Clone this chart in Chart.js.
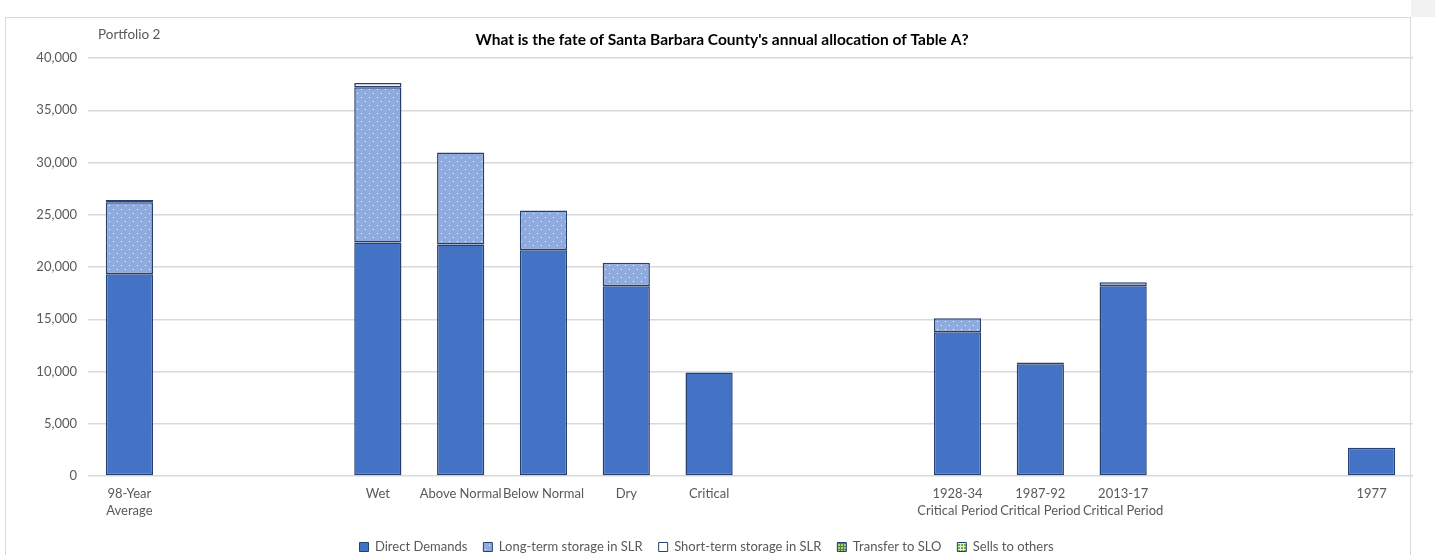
<!DOCTYPE html>
<html>
<head>
<meta charset="utf-8">
<script src="https://cdn.jsdelivr.net/npm/chart.js@4.4.1/dist/chart.umd.min.js"></script>
<style>
  html, body { margin: 0; padding: 0; background: #ffffff; }
  #wrap { position: relative; width: 1435px; height: 555px; overflow: hidden; }
  #frame { position: absolute; left: 5px; top: 17px; width: 1406px; height: 560px; border: 1px solid #d9d9d9; box-sizing: border-box; }
  #corner { position: absolute; left: 1411px; top: 0; width: 24px; height: 17px; background: #f2f2f2; }
  canvas { position: absolute; left: 0; top: 0; }
</style>
</head>
<body>
<div id="wrap">
  <div id="corner"></div>
  <div id="frame"></div>
  <canvas id="c" width="1435" height="555"></canvas>
</div>
<script>
// ---- data ----
const categories = [
  ['98-Year', 'Average'], '', '', 'Wet', 'Above Normal', 'Below Normal', 'Dry', 'Critical', '', '',
  ['1928-34', 'Critical Period'], ['1987-92', 'Critical Period'], ['2013-17', 'Critical Period'], '', '', '1977'
];
const directDemands = [19300, null, null, 22350, 22150, 21600, 18150, 9900, null, null, 13750, 10700, 18150, null, null, 2700];
const longTermSLR   = [6900, null, null, 14850, 8800, 3800, 2250, 0, null, null, 1350, 0, 400, null, null, 0];
const shortTermSLR  = [200, null, null, 400, 0, 0, 0, 0, null, null, 0, 150, 0, null, null, 0];
const transferSLO   = [0, null, null, 0, 0, 0, 0, 0, null, null, 0, 0, 0, null, null, 0];
const sellsOthers   = [0, null, null, 0, 0, 0, 0, 0, null, null, 0, 0, 0, null, null, 0];
const yTicks = [0, 5000, 10000, 15000, 20000, 25000, 30000, 35000, 40000];
const titleText = "What is the fate of Santa Barbara County's annual allocation of Table A?";
const subtitleText = 'Portfolio 2';

// ---- patterns ----
function makeDots(bg, dot) {
  const c = document.createElement('canvas');
  c.width = 8; c.height = 8;
  const g = c.getContext('2d');
  g.fillStyle = bg; g.fillRect(0, 0, 8, 8);
  g.fillStyle = dot;
  g.fillRect(1, 1, 1, 1);
  g.fillRect(5, 5, 1, 1);
  return g.createPattern(c, 'repeat');
}
function makeGrid(bg, line) {
  const c = document.createElement('canvas');
  c.width = 3; c.height = 3;
  const g = c.getContext('2d');
  g.fillStyle = bg; g.fillRect(0, 0, 3, 3);
  g.fillStyle = line; g.fillRect(0, 0, 3, 1); g.fillRect(0, 0, 1, 3);
  return g.createPattern(c, 'repeat');
}
const longPattern = makeDots('#8faadc', 'rgba(255,255,255,0.9)');
const transferPattern = makeGrid('#a9d18e', '#548235');
const sellsPattern = makeGrid('#70ad47', '#e2f0d9');

const FONT = "Lato, 'Liberation Sans', sans-serif";
const border = '#26416f';

const textPlugin = {
  id: 'texts',
  afterDraw(chart) {
    const ctx = chart.ctx;
    ctx.save();
    ctx.fillStyle = '#000000';
    ctx.font = "bold 15.5px " + FONT;
    ctx.textAlign = 'center';
    ctx.textBaseline = 'middle';
    ctx.fillText(titleText, 722, 40);
    ctx.fillStyle = '#595959';
    ctx.font = "13.5px " + FONT;
    ctx.textAlign = 'left';
    ctx.fillText(subtitleText, 98, 35);
    ctx.restore();
  }
};

const ds = (label, data, bg) => ({
  label, data, backgroundColor: bg, borderColor: border,
  borderWidth: c => (c.raw ? 1.5 : 0),
  borderSkipped: false, barPercentage: 1, categoryPercentage: 0.57
});

new Chart(document.getElementById('c'), {
  type: 'bar',
  data: {
    labels: categories,
    datasets: [
      ds('Direct Demands', directDemands, '#4472c4'),
      ds('Long-term storage in SLR', longTermSLR, longPattern),
      ds('Short-term storage in SLR', shortTermSLR, '#ffffff'),
      ds('Transfer to SLO', transferSLO, transferPattern),
      ds('Sells to others', sellsOthers, sellsPattern)
    ]
  },
  plugins: [textPlugin],
  options: {
    responsive: false,
    animation: false,
    layout: { padding: { top: 58, left: 0, right: 22, bottom: -8.5 } },
    plugins: {
      title: { display: false },
      tooltip: { enabled: false },
      legend: {
        position: 'bottom',
        labels: {
          boxWidth: 9, boxHeight: 9, padding: 16,
          color: '#595959', font: { family: FONT, size: 13 },
          generateLabels(chart) {
            const items = Chart.defaults.plugins.legend.labels.generateLabels(chart);
            items.forEach(it => { it.lineWidth = 1; it.strokeStyle = border; });
            return items;
          }
        }
      }
    },
    scales: {
      x: {
        stacked: true,
        grid: { display: false, drawTicks: false },
        border: { display: false },
        ticks: {
          autoSkip: false, maxRotation: 0, minRotation: 0, padding: 10,
          color: '#595959', font: { family: FONT, size: 13, lineHeight: 1.25 }
        },
        afterFit(s) { s.height = 48.5; }
      },
      y: {
        stacked: true,
        min: 0, max: 40000,
        afterBuildTicks(s) { s.ticks = yTicks.map(v => ({ value: v })); },
        grid: { color: '#d9d9d9', lineWidth: 1.5, drawTicks: false },
        border: { display: false },
        ticks: {
          padding: 11, color: '#595959', font: { family: FONT, size: 13 },
          callback: v => v.toLocaleString('en-US')
        },
        afterFit(s) { s.width = 88; }
      }
    }
  }
});
</script>
</body>
</html>
